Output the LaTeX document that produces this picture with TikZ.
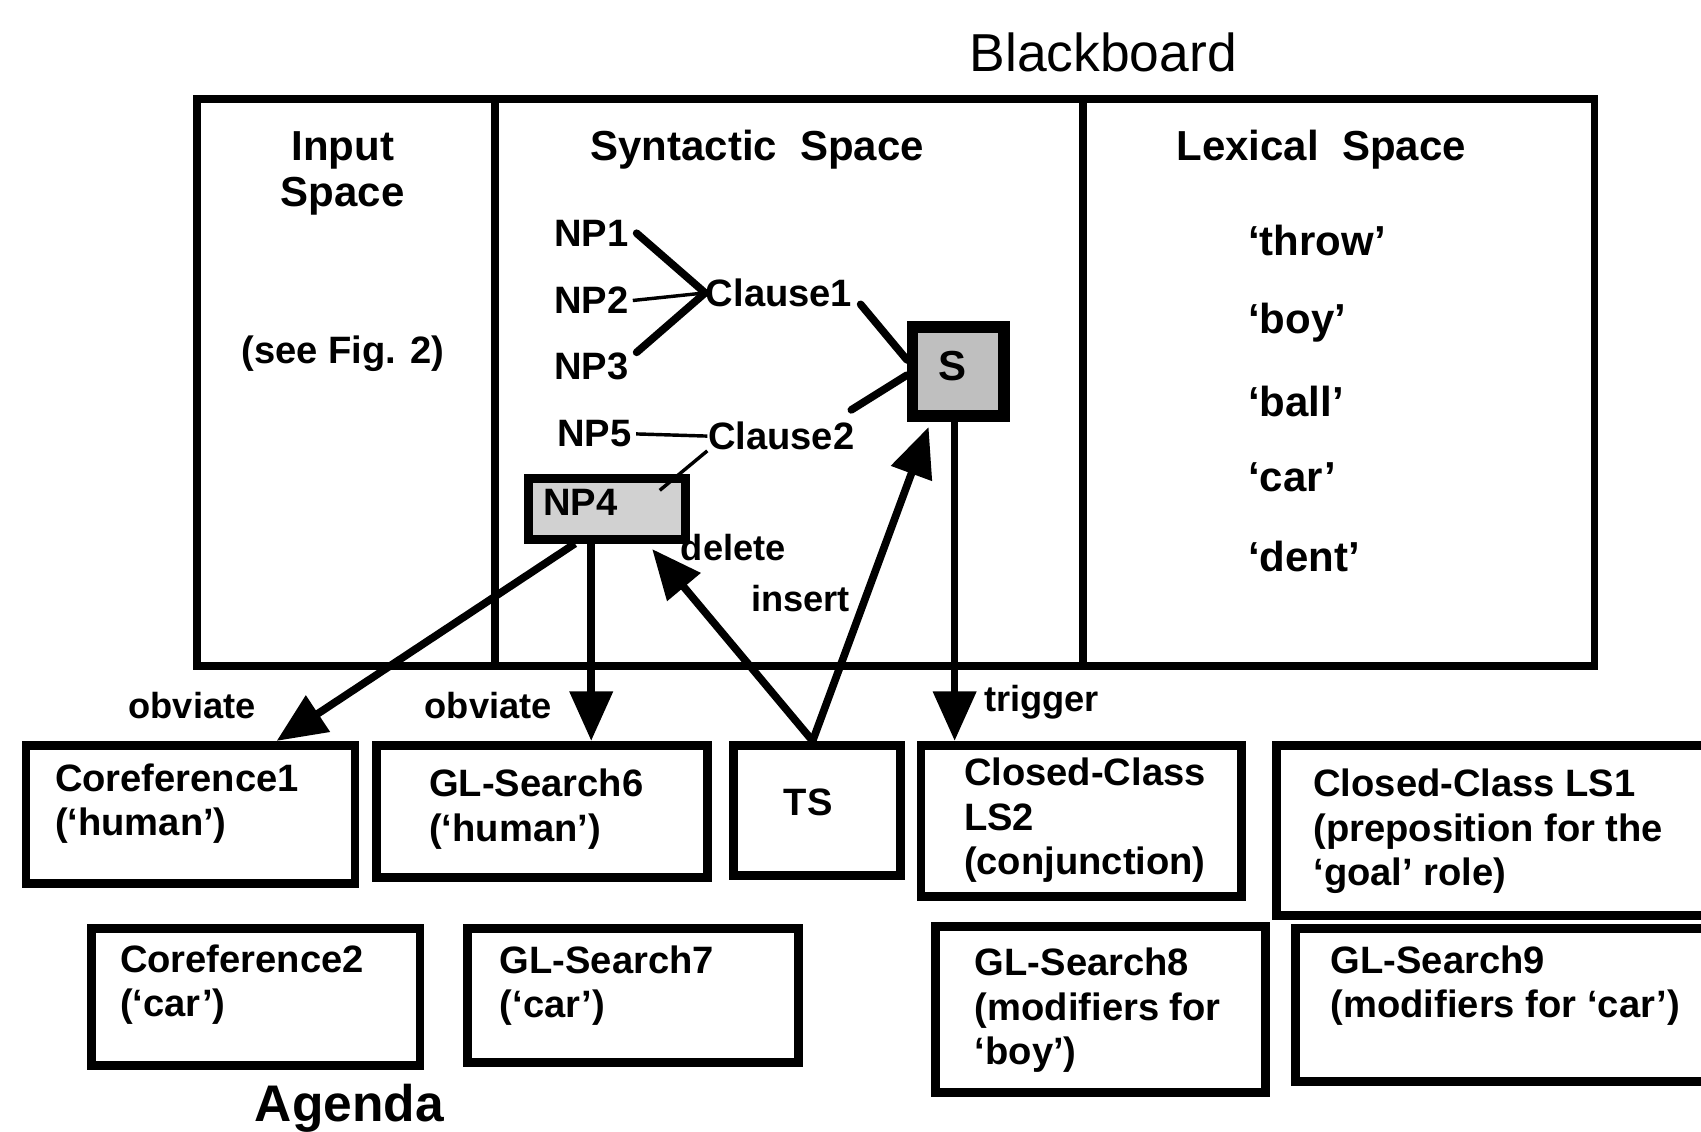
\documentclass[tikz,border=0pt]{standalone}
\usepackage{fontspec}
\setmainfont{Liberation Sans}
\usetikzlibrary{arrows.meta,calc}
\begin{document}
\begin{tikzpicture}[x=0.01cm,y=-0.01cm,
  every node/.style={font=\bfseries\fontsize{10}{11.7}\selectfont, inner sep=0pt},
  space/.style={draw, line width=2pt, anchor=north west},
  abox/.style={draw, line width=2.3pt, anchor=north west},
  btxt/.style={anchor=north west, align=left},
  lbl/.style={font=\bfseries\fontsize{9.5}{11}\selectfont},
  big/.style={font=\bfseries\fontsize{11}{12.2}\selectfont},
  thickln/.style={line width=2pt, line cap=round},
  thinln/.style={line width=0.9pt},
  arr/.style={line width=2pt, -{Triangle[length=13pt,width=11pt]}},
]
\useasboundingbox (0,0) rectangle (1568,1043);
\clip (0,0) rectangle (1568,1043);
\fill[white] (0,0) rectangle (1568,1043);

% title
\node[font=\mdseries\fontsize{14}{16}\selectfont] (bbtitle) at (1017,48) {Blackboard};

% blackboard spaces
\node[space, minimum width=2.75cm, minimum height=5.22cm] (inp) at (178,88) {};
\node[space, minimum width=5.42cm, minimum height=5.22cm] (syn) at (453,88) {};
\node[space, minimum width=4.71cm, minimum height=5.22cm] (lex) at (995,88) {};

\node[big, align=center] (inpT) at (316,160) {Input\\Space};
\node (seefig) at (316,326) {(see Fig. 2)};
\node[big] (synT) at (698,138) {Syntactic\ \ Space};
\node[big] (lexT) at (1218,138) {Lexical\ \ Space};

% lexical words
\node[big, anchor=west] (w1) at (1150,222) {`throw'};
\node[big, anchor=west] (w2) at (1150,297) {`boy'};
\node[big, anchor=west] (w3) at (1150,370) {`ball'};
\node[big, anchor=west] (w4) at (1150,440) {`car'};
\node[big, anchor=west] (w5) at (1150,513) {`dent'};

% syntactic nodes
\node[anchor=west] (np1) at (510,215) {NP1};
\node[anchor=west] (np2) at (510,277) {NP2};
\node[anchor=west] (np3) at (510,338) {NP3};
\node[anchor=west] (np5) at (513,400) {NP5};
\node[anchor=west] (clause1) at (650,270) {Clause1};
\node[anchor=west] (clause2) at (652,402) {Clause2};

\node[draw, line width=2.3pt, fill=black!18, anchor=north west, minimum width=1.45cm, minimum height=0.56cm] (np4) at (483,437) {};
\node[anchor=west] (np4t) at (500,463) {NP4};

\node[draw, line width=3pt, fill=black!25, anchor=north west, minimum width=0.84cm, minimum height=0.82cm] (sbox) at (836,296) {};
\node[big] (st) at (878,337) {S};

% tree lines
\draw[thickln] ([xshift=2pt]np1.east) -- (clause1.west);
\draw[thinln] ([xshift=1pt]np2.east) -- (clause1.west);
\draw[thickln] ([xshift=2pt]np3.north east) -- (clause1.west);
\draw[thickln] ([xshift=2pt,yshift=-3pt]clause1.east) -- ([yshift=3pt]sbox.west);
\draw[thickln] ([xshift=-1pt,yshift=3pt]clause2.north east) -- ([yshift=-1pt]sbox.west);
\draw[thinln] ([xshift=1pt]np5.east) -- (clause2.west);
\draw[thinln] (clause2.south west) -- ($(np4.north east)+(-28,15)$);

% agenda boxes
\node[abox, minimum width=3.03cm, minimum height=1.27cm] (c1) at (20,683) {};
\node[abox, minimum width=3.05cm, minimum height=1.22cm] (gl6) at (343,683) {};
\node[abox, minimum width=1.54cm, minimum height=1.20cm] (ts) at (672,683) {};
\node[abox, minimum width=2.95cm, minimum height=1.39cm] (ls2) at (845,683) {};
\node[abox, minimum width=4.10cm, minimum height=1.57cm] (ls1) at (1173,683) {};
\node[abox, minimum width=3.03cm, minimum height=1.26cm] (c2) at (80,852) {};
\node[abox, minimum width=3.05cm, minimum height=1.23cm] (gl7) at (427,852) {};
\node[abox, minimum width=3.04cm, minimum height=1.53cm] (gl8) at (858,850) {};
\node[abox, minimum width=3.90cm, minimum height=1.41cm] (gl9) at (1190,852) {};

\node[btxt] (c1t) at (50,703) {Coreference1\\(`human')};
\node[btxt] (gl6t) at (395,708) {GL-Search6\\(`human')};
\node (tst) at (745,740) {TS};
\node[btxt] (ls2t) at (888,698) {Closed-Class\\LS2\\(conjunction)};
\node[btxt] (ls1t) at (1210,708) {Closed-Class LS1\\(preposition for the\\`goal' role)};
\node[btxt] (c2t) at (110,870) {Coreference2\\(`car')};
\node[btxt] (gl7t) at (460,871) {GL-Search7\\(`car')};
\node[btxt] (gl8t) at (898,873) {GL-Search8\\(modifiers for\\`boy')};
\node[btxt] (gl9t) at (1226,871) {GL-Search9\\(modifiers for `car')};

\node[font=\bfseries\fontsize{13.5}{15}\selectfont] (agenda) at (322,1022) {Agenda};

% arrow end points
\coordinate (np4a) at ($(np4.south west)+(47,0)$);
\coordinate (np4b) at ($(np4.south west)+(62,0)$);
\coordinate (np4c) at ($(np4.south east)+(-35,5)$);
\coordinate (c1a) at ($(c1.north west)+(235,0)$);
\coordinate (sa) at ($(sbox.south west)+(20,5)$);
\coordinate (sb) at ($(sbox.south west)+(44,0)$);
\coordinate (tsa) at ($(ts.north)+(-4,0)$);

% arrows
\draw[arr] (np4a) -- (c1a);
\draw[arr] (np4b) -- (np4b |- gl6.north);
\draw[arr] (tsa) -- (np4c);
\draw[arr] (tsa) -- (sa);
\draw[arr] (sb) -- (sb |- ls2.north);

% arrow labels
\node[lbl] (ob1) at (177,650) {obviate};
\node[lbl] (ob2) at (450,650) {obviate};
\node[lbl] (trig) at (960,647) {trigger};
\node[lbl] (del) at (676,505) {delete};
\node[lbl] (ins) at (738,552) {insert};
\end{tikzpicture}
\end{document}
